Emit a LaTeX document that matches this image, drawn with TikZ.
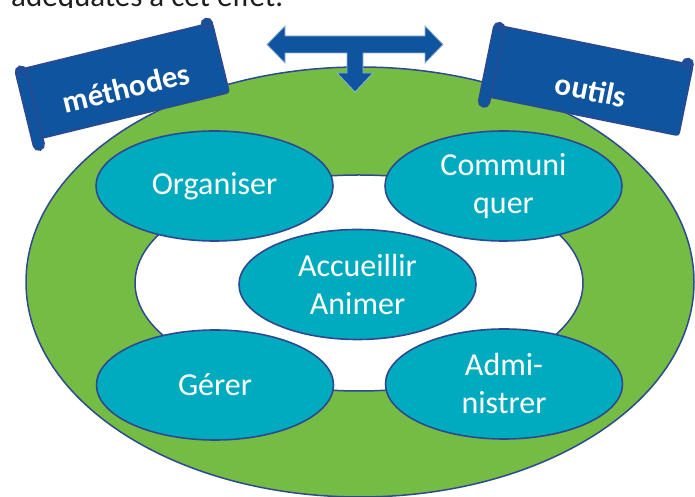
\documentclass[tikz,border=0pt]{standalone}
\usepackage{fontspec}
\setmainfont{Carlito}
\usetikzlibrary{shapes.geometric}
\definecolor{ringgreen}{RGB}{116,188,67}
\definecolor{petrol}{RGB}{0,171,191}
\definecolor{bannerblue}{RGB}{14,84,158}
\definecolor{edgeblue}{RGB}{46,72,145}
\definecolor{toptext}{RGB}{30,30,30}
\tikzset{
  bubble/.style={ellipse, fill=petrol, draw=edgeblue, line width=1.6pt,
    minimum width=237pt, minimum height=110pt, inner sep=0pt, text=white,
    font=\fontsize{32}{38}\selectfont, align=center},
  bannerpart/.style={fill=bannerblue, draw=edgeblue, line width=1.5pt},
  bannertext/.style={text=white, font=\fontsize{31}{34}\selectfont\bfseries, inner sep=0pt},
  scrollbanner/.pic={
    % body
    \path[bannerpart, rounded corners=3pt] (5.5,11) -- (203,11) -- (203,83) -- (5.5,83) -- cycle;
    % right curl
    \path[bannerpart] (197.5,83) circle[radius=5.5];
    \draw[edgeblue, line width=1pt] (197.5,83) circle[radius=2.5];
    % left roll
    \path[bannerpart, rounded corners=5.5pt] (0,0) rectangle (11,86);
    \draw[edgeblue, line width=1pt] (5.5,80.5) circle[radius=2.5];
  }
}
\begin{document}
\begin{tikzpicture}[x=1pt,y=1pt]
\useasboundingbox (0,0) rectangle (695,497);
\begin{scope}
\clip (0,0) rectangle (695,497);
% top text (cut by the top of the picture)
\begin{scope}
\clip (0,489.5) rectangle (695,497);
\node[anchor=base west, inner sep=0pt, text=toptext, font=\fontsize{31}{38}\selectfont] (intro) at (11,490) {adéquates à cet effet.};
\end{scope}
% ring
\node[ellipse, fill=ringgreen, draw=edgeblue, line width=1.5pt, minimum width=668pt, minimum height=430pt, inner sep=0pt] (ring) at (360,215) {};
\node[ellipse, fill=white, draw=edgeblue, line width=1.5pt, minimum width=448pt, minimum height=216pt, inner sep=0pt] (hole) at (359,214) {};
% bubbles
\node[bubble] (organiser) at (214.5,311) {Organiser};
\node[bubble] (communiquer) at (503.5,311) {Communi\\quer};
\node[bubble] (accueillir) at (357.5,212.5) {Accueillir\\Animer};
\node[bubble] (gerer) at (215,112) {Gérer};
\node[bubble] (administrer) at (504,113) {Admi-\\nistrer};
% banners
\pic[shift={(34.7,345.7)}, rotate=13.7] {scrollbanner};
\node[bannertext, rotate=13.7] (methodes) at (126,409) {méthodes};
\pic[shift={(477.6,391.1)}, rotate=-11.5] {scrollbanner};
\node[bannertext, rotate=-11.5] (outils) at (591,407) {outils};
% T arrow
\path[fill=bannerblue, draw=bannerblue!45!white, line width=0.8pt]
  (267,452.5) -- (285,471) -- (285,461) -- (425,461) -- (425,471) -- (443,452.5)
  -- (425,434) -- (425,444) -- (363,444) -- (363,424) -- (373,424) -- (355,405)
  -- (337,424) -- (347,424) -- (347,444) -- (285,444) -- (285,434) -- cycle;
\end{scope}
\end{tikzpicture}
\end{document}
